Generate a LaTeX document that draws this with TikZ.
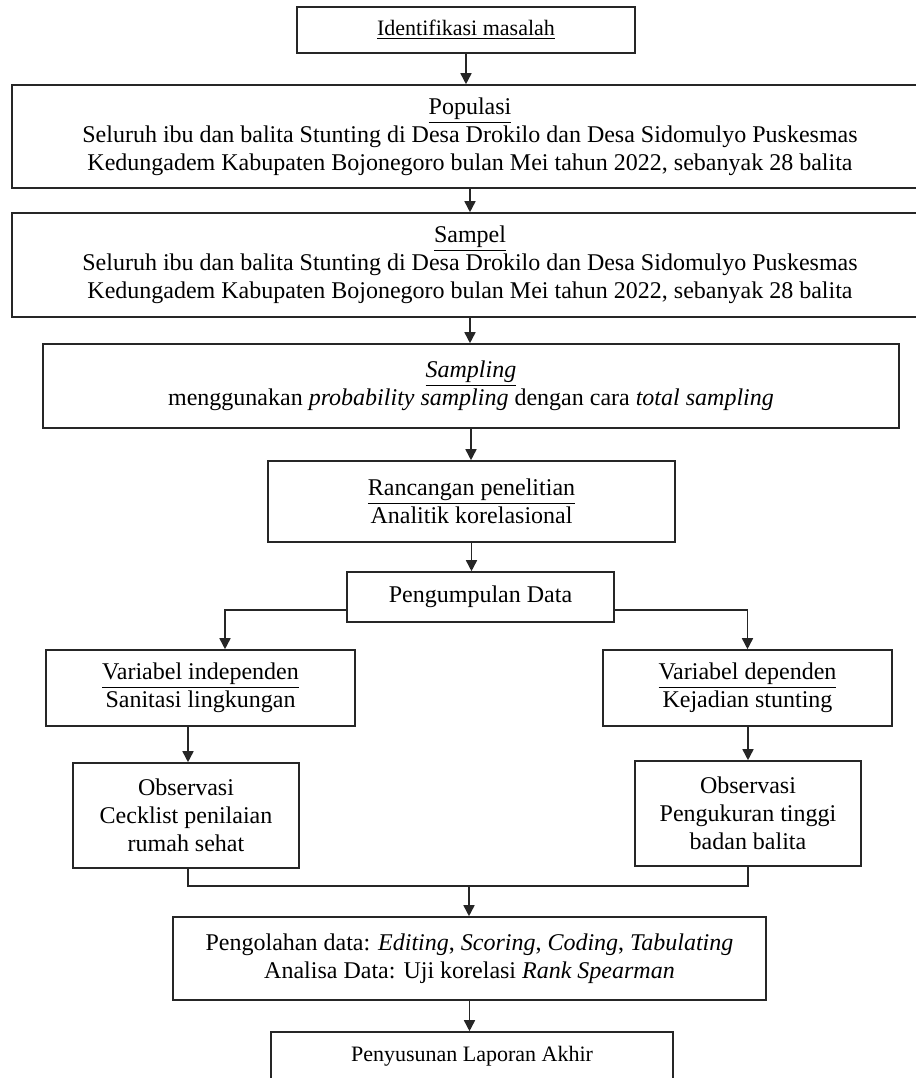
\documentclass[tikz,border=0pt]{standalone}
\usepackage{fontspec}
\setmainfont{Liberation Serif}
\usetikzlibrary{arrows.meta,calc}
\begin{document}
\begin{tikzpicture}[x=0.5pt,y=-0.5pt,
  box/.style={draw=black!85, line width=0.8pt, align=center, inner sep=0pt, font=\fontsize{12}{14}\selectfont},
  smallbox/.style={box, font=\fontsize{11}{13}\selectfont},
  arr/.style={draw=black!85, line width=0.8pt, -{Triangle[length=5.5pt,width=5.5pt]}},
  ln/.style={draw=black!85, line width=0.8pt}]
\useasboundingbox (0,0) rectangle (916,1078);
\clip (0,0) rectangle (916,1078);

\node[smallbox, minimum width=169pt, minimum height=23pt] (b1) at (466,30) {\underline{Identifikasi masalah}};
\node[box, minimum width=458pt, minimum height=51.5pt] (b2) at (470,136.5) {\underline{Populasi}\\Seluruh ibu dan balita Stunting di Desa Drokilo dan Desa Sidomulyo Puskesmas\\Kedungadem Kabupaten Bojonegoro bulan Mei tahun 2022, sebanyak 28 balita};
\node[box, minimum width=458pt, minimum height=52pt] (b3) at (470,265) {\underline{Sampel}\\Seluruh ibu dan balita Stunting di Desa Drokilo dan Desa Sidomulyo Puskesmas\\Kedungadem Kabupaten Bojonegoro bulan Mei tahun 2022, sebanyak 28 balita};
\node[box, minimum width=428pt, minimum height=42pt] (b4) at (471,386) {\underline{\textit{Sampling}}\\menggunakan \textit{probability sampling} dengan cara \textit{total sampling}};
\node[box, minimum width=203.5pt, minimum height=40.5pt] (b5) at (471.5,501.5) {\underline{Rancangan penelitian}\\Analitik korelasional};
\node[box, minimum width=133.5pt, minimum height=25pt] (b6) at (480.5,597) {Pengumpulan Data};
\node[box, minimum width=154.5pt, minimum height=38pt] (b7) at (200.5,688) {\underline{Variabel independen}\\Sanitasi lingkungan};
\node[box, minimum width=144.5pt, minimum height=38pt] (b8) at (747.5,688) {\underline{Variabel dependen}\\Kejadian stunting};
\node[box, minimum width=113pt, minimum height=52.5pt] (b9) at (186,815.5) {Observasi\\Cecklist penilaian\\rumah sehat};
\node[box, minimum width=113pt, minimum height=52.5pt] (b10) at (748,813.5) {Observasi\\Pengukuran tinggi\\badan balita};
\node[box, minimum width=296.5pt, minimum height=41.5pt] (b11) at (469.5,958.5) {Pengolahan data: \textit{Editing}, \textit{Scoring}, \textit{Coding}, \textit{Tabulating}\\Analisa Data: Uji korelasi \textit{Rank Spearman}};
\node[smallbox, minimum width=201pt, minimum height=24pt] (b12) at (472,1056) {Penyusunan Laporan Akhir};

\draw[arr] (b1.south) -- (b1.south |- b2.north);
\draw[arr] (b2.south) -- (b2.south |- b3.north);
\draw[arr] (b3.south) -- (b3.south |- b4.north);
\draw[arr] (b4.south) -- (b4.south |- b5.north);
\draw[arr] (b5.south) -- (b5.south |- b6.north);
\draw[arr] ([yshift=6.5pt]b6.south west) -| ([xshift=12.25pt]b7.north);
\draw[arr] ([yshift=6.5pt]b6.south east) -| (b8.north);
\draw[arr] ([xshift=1pt]b9.north |- b7.south) -- ([xshift=1pt]b9.north);
\draw[arr] (b10.north |- b8.south) -- (b10.north);
\coordinate (m) at (469,886);
\draw[ln] ([xshift=1pt]b9.south) |- (m) -| (b10.south);
\draw[arr] (m) -- (m |- b11.north);
\draw[arr] (b11.south) -- (b11.south |- b12.north);
\end{tikzpicture}
\end{document}
